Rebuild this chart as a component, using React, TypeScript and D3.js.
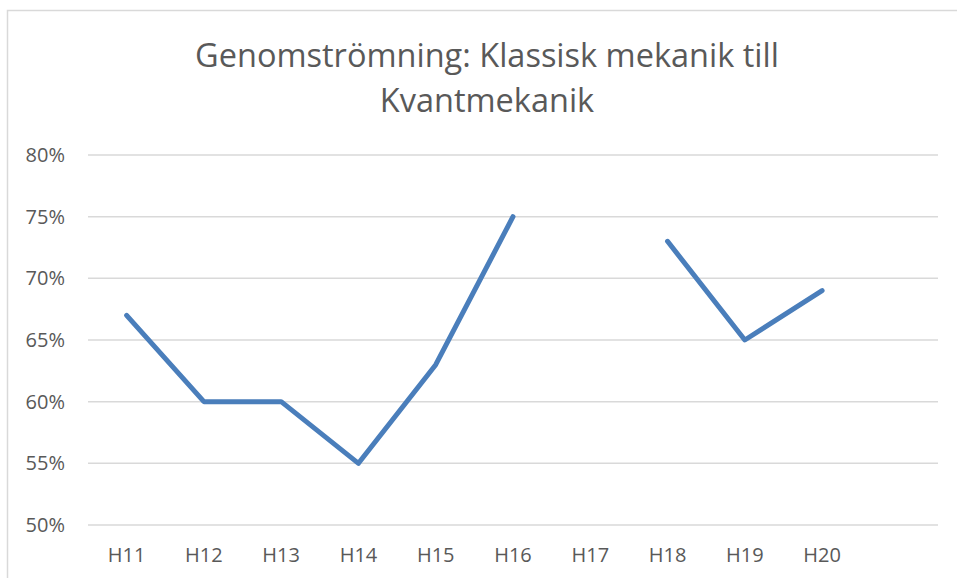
import React from "react";
import * as d3 from "d3";

const width = 957;
const height = 578;

const categories = ["H11", "H12", "H13", "H14", "H15", "H16", "H17", "H18", "H19", "H20", ""];
const values: (number | null)[] = [0.67, 0.6, 0.6, 0.55, 0.63, 0.75, null, 0.73, 0.65, 0.69, null];
const yTicks = [0.5, 0.55, 0.6, 0.65, 0.7, 0.75, 0.8];
const titleLines = ["Genomströmning: Klassisk mekanik till", "Kvantmekanik"];

const font = "'Open Sans', 'DejaVu Sans', sans-serif";
const textColor = "#595959";

export default function App() {
  const x = d3.scaleBand<string>().domain(categories.map((c, i) => c + "_" + i)).range([88, 938]);
  const y = d3.scaleLinear().domain([0.5, 0.8]).range([525, 155]);

  const points = categories.map((c, i) => ({ key: c + "_" + i, label: c, v: values[i] }));
  const cx = (k: string) => (x(k) as number) + x.bandwidth() / 2;

  const line = d3
    .line<{ key: string; v: number | null }>()
    .defined(d => d.v != null)
    .x(d => cx(d.key))
    .y(d => y(d.v as number));

  const fmt = d3.format(".0%");

  return (
    <div style={{ position: "absolute", left: 0, top: 0 }}>
      <svg width={width} height={height} style={{ display: "block", background: "#fff" }}>
        <rect x={7.5} y={10.5} width={width + 20} height={height + 20} fill="#fff" stroke="#d9d9d9" strokeWidth={1.5} />
        {titleLines.map((t, i) => (
          <text key={i} x={487} y={67 + i * 45} textAnchor="middle" fontFamily={font} fontSize={32.5} fill={textColor}>
            {t}
          </text>
        ))}
        {yTicks.map(t => (
          <g key={t}>
            <line x1={88} x2={938} y1={y(t)} y2={y(t)} stroke="#d9d9d9" strokeWidth={1.5} />
            <text x={65} y={y(t)} dy="0.35em" textAnchor="end" fontFamily={font} fontSize={20} fill={textColor}>
              {fmt(t)}
            </text>
          </g>
        ))}
        {points.map(p => (
          <text key={p.key} x={cx(p.key)} y={555} dy="0.35em" textAnchor="middle" fontFamily={font} fontSize={20} fill={textColor}>
            {p.label}
          </text>
        ))}
        <path d={line(points) || ""} fill="none" stroke="#4a7ebb" strokeWidth={5} strokeLinejoin="round" strokeLinecap="round" />
      </svg>
    </div>
  );
}
